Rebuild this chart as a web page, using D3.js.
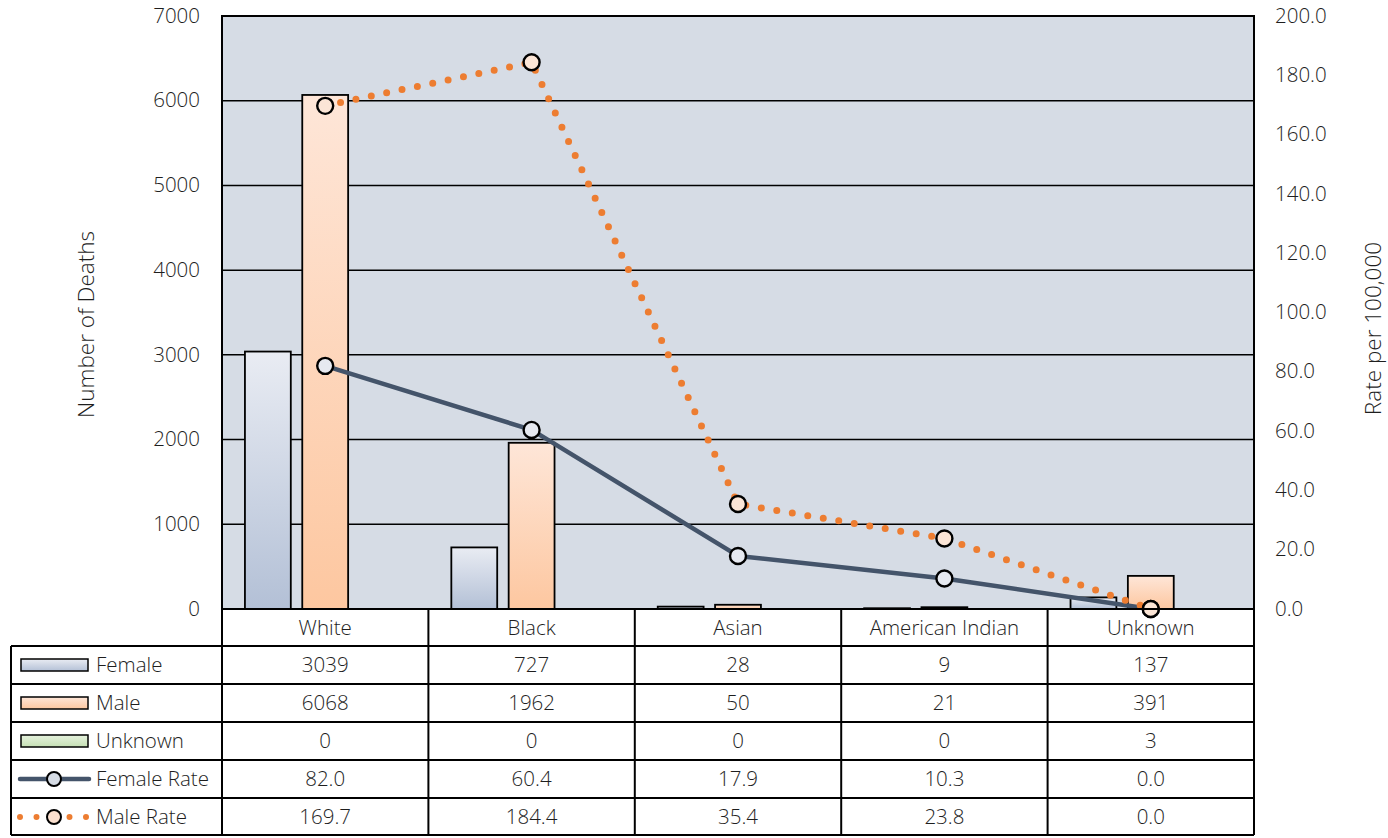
<!DOCTYPE html>
<html><head><meta charset="utf-8">
<script src="https://cdn.jsdelivr.net/npm/d3@7"></script>
<style>
body{margin:0;background:#fff;}
text{font-family:"Open Sans","Noto Sans",sans-serif;fill:#1e1e1e;font-weight:300;}
</style></head>
<body><svg id="c" width="1388" height="838"></svg>
<script>
const categories = ["White","Black","Asian","American Indian","Unknown"];
const female = [3039,727,28,9,137];
const male = [6068,1962,50,21,391];
const unknown = [0,0,0,0,3];
const femaleRate = [82.0,60.4,17.9,10.3,0.0];
const maleRate = [169.7,184.4,35.4,23.8,0.0];
const leftTicks = [0,1000,2000,3000,4000,5000,6000,7000];
const rightTicks = [0,20,40,60,80,100,120,140,160,180,200];

const FS = "20.5px";
const svg = d3.select("#c");
const L = 222, R = 1254, T = 16, B = 609;
const x = d3.scaleBand().domain(categories).range([L,R]).paddingInner(0).paddingOuter(0);
const bars = ["Female","Male","Unknown"];
const xs = d3.scaleBand().domain(bars).range([0,x.bandwidth()]).paddingInner(0.2).paddingOuter(0.4);
const y = d3.scaleLinear().domain([0,7000]).range([B,T]);
const y2 = d3.scaleLinear().domain([0,200]).range([B,T]);

const defs = svg.append("defs");
function grad(id,c1,c2){const g=defs.append("linearGradient").attr("id",id).attr("x1",0).attr("y1",0).attr("x2",0).attr("y2",1);
 g.append("stop").attr("offset",0).attr("stop-color",c1);g.append("stop").attr("offset",1).attr("stop-color",c2);}
grad("gF","#e9ecf3","#b3c0d6");
grad("gM","#fee6d8","#fdc7a0");
grad("gU","#e6f2de","#c5e0b4");
const fills={Female:"url(#gF)",Male:"url(#gM)",Unknown:"url(#gU)"};

svg.append("rect").attr("x",L).attr("y",T).attr("width",R-L).attr("height",B-T).attr("fill","#d6dce5");
svg.append("g").selectAll("line").data(leftTicks.slice(1)).join("line")
 .attr("x1",L).attr("x2",R).attr("y1",d=>y(d)).attr("y2",d=>y(d)).attr("stroke","#000").attr("stroke-width",1.5);

const series = {Female:female,Male:male,Unknown:unknown};
bars.forEach(s=>{
 svg.append("g").selectAll("rect").data(categories).join("rect")
  .attr("x",(c)=>x(c)+xs(s)).attr("width",xs.bandwidth())
  .attr("y",(c,i)=>y(series[s][i])).attr("height",(c,i)=>B-y(series[s][i]))
  .attr("fill",fills[s]).attr("stroke","#000").attr("stroke-width",(c,i)=>series[s][i]>5?1.8:0);
});

svg.append("rect").attr("x",L).attr("y",T).attr("width",R-L).attr("height",B-T).attr("fill","none").attr("stroke","#000").attr("stroke-width",2);

const cx = c=>x(c)+x.bandwidth()/2;
const line2 = d3.line().x((d,i)=>cx(categories[i])).y(d=>y2(d));
svg.append("path").attr("d",line2(femaleRate)).attr("fill","none").attr("stroke","#44546a").attr("stroke-width",4.5).attr("stroke-linejoin","round");
svg.append("path").attr("d",line2(maleRate)).attr("fill","none").attr("stroke","#ed7d31").attr("stroke-width",7).attr("stroke-linecap","round").attr("stroke-dasharray","0 15.7");
function markers(data,fill){
 svg.append("g").selectAll("circle").data(data).join("circle")
  .attr("cx",(d,i)=>cx(categories[i])).attr("cy",d=>y2(d)).attr("r",8)
  .attr("fill",fill).attr("stroke","#000").attr("stroke-width",2.4);
}
markers(femaleRate,"#e6e9f0");
markers(maleRate,"#fbe5d6");

// axes
const gl = svg.append("g").attr("transform",`translate(${L},0)`).call(d3.axisLeft(y).tickValues(leftTicks).tickSize(0).tickPadding(22).tickFormat(d3.format("d")));
gl.select(".domain").remove();
gl.selectAll("text").style("font-size",FS).attr("fill","#1e1e1e").attr("dy","0.3em");
const gr = svg.append("g").attr("transform",`translate(${R},0)`).call(d3.axisRight(y2).tickValues(rightTicks).tickSize(0).tickPadding(21).tickFormat(d3.format(".1f")));
gr.select(".domain").remove();
gr.selectAll("text").style("font-size",FS).attr("fill","#1e1e1e").attr("dy","0.3em");

svg.append("text").attr("transform",`translate(94,${(T+B)/2+12}) rotate(-90)`).attr("text-anchor","middle").style("font-size","22.5px").text("Number of Deaths");
svg.append("text").attr("transform",`translate(1381,${(T+B)/2+16}) rotate(-90)`).attr("text-anchor","middle").style("font-size","22.5px").text("Rate per 100,000");

// data table
const rowH = 38;
const rows = [
 {name:"Female",vals:female,fmt:d3.format("d"),type:"rect",fill:"url(#gF)"},
 {name:"Male",vals:male,fmt:d3.format("d"),type:"rect",fill:"url(#gM)"},
 {name:"Unknown",vals:unknown,fmt:d3.format("d"),type:"rect",fill:"url(#gU)"},
 {name:"Female Rate",vals:femaleRate,fmt:d3.format(".1f"),type:"line"},
 {name:"Male Rate",vals:maleRate,fmt:d3.format(".1f"),type:"dot"}
];
const tb = svg.append("g");
const headTop = B, bodyTop = B+37, TL = 11;
tb.selectAll("text.h").data(categories).join("text").attr("class","h")
 .attr("x",c=>cx(c)).attr("y",(headTop+bodyTop)/2+7).attr("text-anchor","middle").style("font-size",FS).text(d=>d);
rows.forEach((r,i)=>{
 const yc = bodyTop + rowH*i + rowH/2;
 tb.selectAll(null).data(r.vals).join("text").attr("x",(d,j)=>cx(categories[j])).attr("y",yc+7)
   .attr("text-anchor","middle").style("font-size",FS).text(d=>r.fmt(d));
 tb.append("text").attr("x",96).attr("y",yc+7).style("font-size",FS).text(r.name);
 if(r.type==="rect"){
  tb.append("rect").attr("x",21).attr("y",yc-6).attr("width",67).attr("height",12).attr("fill",r.fill).attr("stroke","#000").attr("stroke-width",1.5);
 } else if(r.type==="line"){
  tb.append("line").attr("x1",20).attr("x2",89).attr("y1",yc).attr("y2",yc).attr("stroke","#44546a").attr("stroke-width",4.5).attr("stroke-linecap","round");
  tb.append("circle").attr("cx",54).attr("cy",yc).attr("r",7).attr("fill","#d6dce5").attr("stroke","#000").attr("stroke-width",2);
 } else {
  tb.append("line").attr("x1",20).attr("x2",89).attr("y1",yc).attr("y2",yc).attr("stroke","#ed7d31").attr("stroke-width",6).attr("stroke-linecap","round").attr("stroke-dasharray","0 16.5");
  tb.append("circle").attr("cx",54).attr("cy",yc).attr("r",7).attr("fill","#fbe0cf").attr("stroke","#000").attr("stroke-width",2);
 }
});
const bot = bodyTop + rowH*rows.length - 1;
tb.append("line").attr("x1",L).attr("x2",R).attr("y1",headTop).attr("y2",headTop).attr("stroke","#000").attr("stroke-width",2);
d3.range(rows.length+1).forEach(i=>{
 const yy = Math.min(bodyTop + rowH*i, bot);
 tb.append("line").attr("x1",TL).attr("x2",R).attr("y1",yy).attr("y2",yy).attr("stroke","#000").attr("stroke-width",2);
});
const vx = categories.map(c=>x(c)).concat([R]);
tb.selectAll(null).data(vx).join("line").attr("x1",d=>d).attr("x2",d=>d).attr("y1",headTop).attr("y2",bot).attr("stroke","#000").attr("stroke-width",2);
tb.append("line").attr("x1",TL).attr("x2",TL).attr("y1",bodyTop).attr("y2",bot).attr("stroke","#000").attr("stroke-width",2);
</script></body></html>
